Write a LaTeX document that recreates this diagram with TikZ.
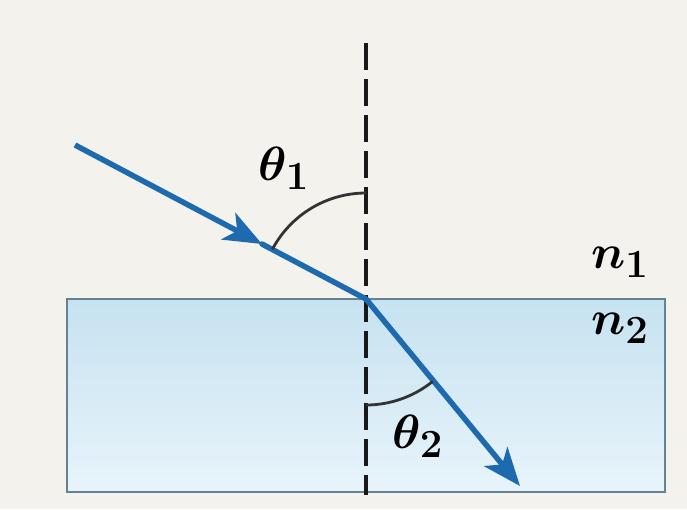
\documentclass[tikz,border=0pt]{standalone}
\usepackage{graphicx}
\usetikzlibrary{arrows.meta}
\definecolor{bgc}{HTML}{F3F2EC}
\definecolor{raycol}{HTML}{1E6AAE}
\definecolor{glasstop}{HTML}{C6E2F0}
\definecolor{glassbot}{HTML}{E8F4FB}
\definecolor{glassedge}{HTML}{62838F}
\newcommand{\biglab}[1]{\scalebox{1.93}{$#1$}}
\begin{document}
\begin{tikzpicture}[x=1pt,y=-1pt,
  ray/.style={draw=raycol,line width=5.5pt},
  rayhead/.style={-{Stealth[length=38pt,width=30pt,inset=10pt]}},
  normal/.style={draw=black!90,line width=3.5pt,dash pattern=on 27pt off 9pt},
  anglearc/.style={draw=black!80,line width=2.8pt},
  lab/.style={font=\Huge\boldmath,inner sep=0pt}]
\fill[bgc] (0,0) rectangle (687,509);
\useasboundingbox (0,0) rectangle (687,509);
% glass block
\shade[top color=glasstop,bottom color=glassbot] (67,299) rectangle (665,492);
\draw[glassedge,line width=2.8pt] (67,299) rectangle (665,492);
% points
\coordinate (O) at (366,299);
\coordinate (A) at (75,145);
\coordinate (M) at (262,244);
\coordinate (B) at (520,486);
\coordinate (Ntop) at (366,43);
\coordinate (Nbot) at (366,495);
% normal
\draw[normal] (Ntop) -- (Nbot);
% incident ray
\draw[ray,rayhead] (A) -- (M);
\draw[ray,line cap=round] (M) -- (O);
% refracted ray
\draw[ray,rayhead] (O) -- (B);
% angle arcs
\draw[anglearc] (O) ++(-90:106) arc[start angle=-90,end angle=-152,radius=106];
\draw[anglearc] (O) ++(90:106) arc[start angle=90,end angle=51,radius=106];
% labels
\node[lab] (t1) at (284,168) {\biglab{\theta_1}};
\node[lab] (t2) at (418,436) {\biglab{\theta_2}};
\node[lab] (n1) at (620,262) {\biglab{n_1}};
\node[lab] (n2) at (620,328) {\biglab{n_2}};
\end{tikzpicture}
\end{document}
